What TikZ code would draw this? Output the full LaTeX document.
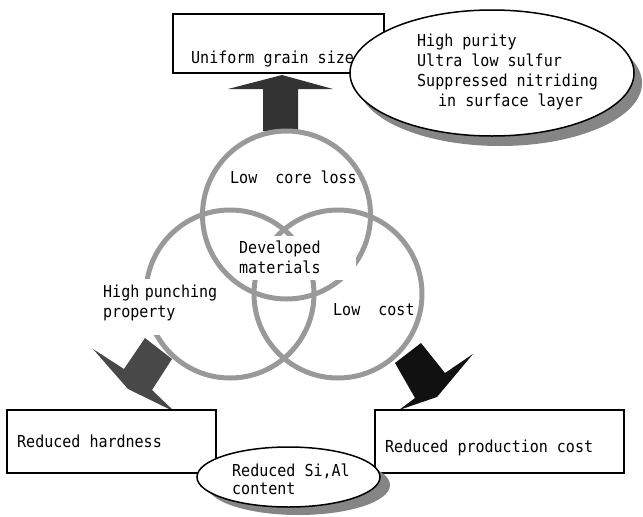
\documentclass[tikz,border=0pt]{standalone}
\usepackage{fontspec}
\setmonofont{DejaVu Sans Mono}[FakeStretch=0.91]
\usetikzlibrary{shapes.geometric,shadows}
\newcommand{\labelfont}{\ttfamily\fontsize{16.5}{20}\selectfont}
\definecolor{ringgray}{HTML}{999999}
\definecolor{arrowup}{HTML}{333333}
\definecolor{arrowleft}{HTML}{484848}
\definecolor{arrowright}{HTML}{111111}
\definecolor{shadowgray}{HTML}{858585}

\begin{document}
\begin{tikzpicture}[x=1pt,y=-1pt,
    txt/.style={font=\labelfont, inner sep=0pt, align=left},
    panel/.style={draw, line width=1.5pt, fill=white, inner sep=0pt},
    bubble/.style={ellipse, draw, line width=1.5pt, fill=white, inner sep=0pt},
    ring/.style={circle, draw=ringgray, line width=5pt, minimum size=168pt, inner sep=0pt}]
  \useasboundingbox (0,0) rectangle (643,517);

  % block arrows
  \fill[arrowup] (282,75) -- (333,89) -- (298,89) -- (298,131) -- (263,131) -- (263,89) -- (228,89) -- cycle;
  \fill[arrowleft] (93,349) -- (128,389) -- (175,412) -- (152,390) -- (172,359) -- (145,338) -- (124,369) -- cycle;
  \fill[arrowright] (395,363) -- (415,398) -- (399,410) -- (437,397) -- (473,354) -- (445,373) -- (421,343) -- cycle;

  % the three properties
  \node[ring] (coreloss) at (286.5,215) {};
  \node[ring] (punching) at (230,294) {};
  \node[ring] (lowcost) at (338,294) {};

  \node[txt, anchor=base west] (corelosstxt) at (230,183) {Low\ \ core loss};
  \node[txt, anchor=base west] (lowcosttxt) at (333,315) {Low\ \ cost};
  \node[txt, fill=white, anchor=base west, text width=115pt, inner xsep=2pt,
        text height=17pt, text depth=27pt] (developed) at (237,253) {Developed\\materials};
  \node[txt, fill=white, anchor=base west, text width=120pt, inner xsep=2pt,
        text height=18pt, text depth=38pt] (punchingtxt) at (101,297) {High punching\\property};

  % targets
  \node[panel, minimum width=211pt, minimum height=59pt] (grain) at (278.5,43.5) {};
  \node[txt, anchor=base west] (graintxt) at (191,63) {Uniform grain size};
  \node[panel, minimum width=209pt, minimum height=63pt] (hardness) at (111.5,441.5) {};
  \node[txt, anchor=base west] (hardnesstxt) at (17,447) {Reduced hardness};
  \node[panel, minimum width=249pt, minimum height=63pt] (production) at (499.5,441.5) {};
  \node[txt, anchor=base west] (productiontxt) at (385,452) {Reduced production cost};

  % means
  \node[bubble, minimum width=284pt, minimum height=126pt,
        drop shadow={shadow xshift=8pt, shadow yshift=-10pt, fill=shadowgray, opacity=1}] (purity) at (492,73) {};
  \node[txt, anchor=base west] (puritytxt) at (417,106)
    {High purity\\Ultra low sulfur\\Suppressed nitriding\\\hspace*{21pt}in surface layer};
  \node[bubble, minimum width=183pt, minimum height=60pt,
        drop shadow={shadow xshift=10pt, shadow yshift=-8pt, fill=shadowgray, opacity=1}] (content) at (288.5,477) {};
  \node[txt, anchor=base west, font=\ttfamily\fontsize{16.5}{18}\selectfont] (contenttxt) at (232,494) {Reduced Si,Al\\content};
\end{tikzpicture}
\end{document}
